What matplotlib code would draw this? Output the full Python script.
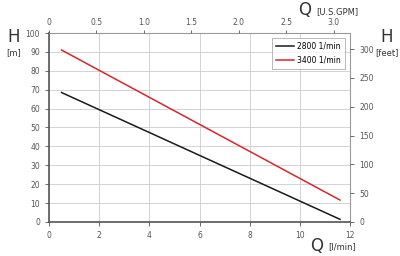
import numpy as np
import matplotlib
matplotlib.use("Agg")
import matplotlib.pyplot as plt

# flow in l/min, head in m
q_2800 = [0.5, 11.6]
h_2800 = [68.5, 1.4]
q_3400 = [0.5, 11.6]
h_3400 = [91.0, 11.6]
labels = ["2800 1/min", "3400 1/min"]

M_TO_FT = 3.28084
LPM_TO_GPM = 0.264172

fig = plt.figure(figsize=(4, 2.56), dpi=100)
ax = fig.add_axes([0.1225, 0.133, 0.7525, 0.738])

ax.plot(q_2800, h_2800, color="#1a1a1a", lw=1.1, label=labels[0])
ax.plot(q_3400, h_3400, color="#d6262c", lw=1.1, label=labels[1])

ax.set_xlim(0, 12)
ax.set_ylim(0, 100)
ax.set_xticks(np.arange(0, 13, 2))
ax.set_yticks(np.arange(0, 101, 10))
ax.grid(True, color="#cccccc", lw=0.6)
ax.set_axisbelow(True)

tc = "#555555"
for s in ["top", "right"]:
    ax.spines[s].set_color("#999999")
    ax.spines[s].set_linewidth(0.8)
for s in ["left", "bottom"]:
    ax.spines[s].set_color("#555555")
    ax.spines[s].set_linewidth(1.2)
ax.tick_params(labelsize=5.5, colors=tc, length=3, width=0.6)

ax2 = ax.twinx()
ax2.set_ylim(0, 100 * M_TO_FT)
ax2.set_yticks(np.arange(0, 301, 50))
ax2.tick_params(labelsize=5.5, colors=tc, length=3, width=0.6)

ax3 = ax.twiny()
ax3.set_xlim(0, 12 * LPM_TO_GPM)
ax3.set_xticks(np.arange(0, 3.01, 0.5))
ax3.set_xticklabels(["0", "0.5", "1.0", "1.5", "2.0", "2.5", "3.0"])
ax3.tick_params(labelsize=5.5, colors=tc, length=2.5, width=0.6, pad=1.5)
for a in (ax2, ax3):
    for s in a.spines.values():
        s.set_visible(False)

leg = ax.legend(loc="upper right", fontsize=5.5, frameon=True, fancybox=False,
                handlelength=2.3, handletextpad=0.5, borderpad=0.55,
                labelspacing=0.6, borderaxespad=0.6)
leg.get_frame().set_edgecolor("#999999")
leg.get_frame().set_linewidth(0.6)

fig.text(0.035, 0.835, "H", fontsize=12, color="#333333", ha="center")
fig.text(0.035, 0.785, "[m]", fontsize=6, color="#333333", ha="center")
fig.text(0.967, 0.835, "H", fontsize=12, color="#333333", ha="center")
fig.text(0.967, 0.785, "[feet]", fontsize=6, color="#333333", ha="center")
fig.text(0.745, 0.94, "Q", fontsize=12, color="#333333")
fig.text(0.79, 0.945, "[U.S.GPM]", fontsize=6, color="#333333")
fig.text(0.775, 0.02, "Q", fontsize=12, color="#333333")
fig.text(0.82, 0.025, "[l/min]", fontsize=6, color="#333333")

fig.savefig("out.png", dpi=100)
